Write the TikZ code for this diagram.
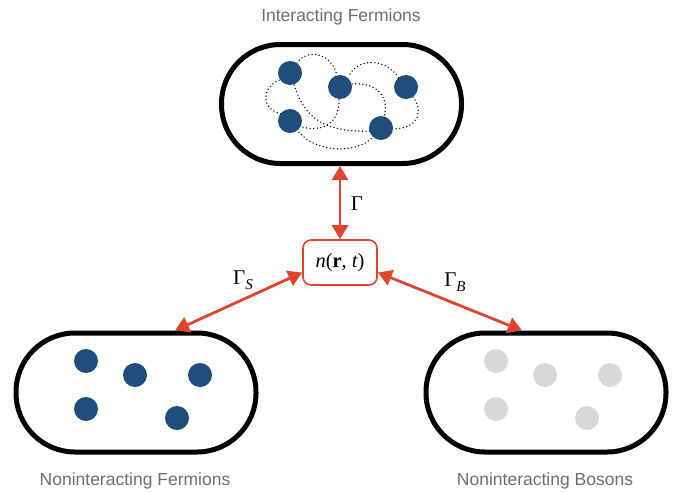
\documentclass[tikz,border=0pt]{standalone}
\usepackage{fontspec}
\setmainfont{Liberation Sans}
\newfontfamily\tnr{Liberation Serif}
\usetikzlibrary{arrows.meta,calc}
\definecolor{fermion}{RGB}{31,78,124}
\definecolor{boson}{RGB}{216,216,216}
\definecolor{arrowred}{RGB}{222,68,46}
\definecolor{labelgray}{RGB}{110,110,110}
\newcommand{\gsub}[1]{\raisebox{-4.5pt}{\fontsize{15}{16}\selectfont\itshape #1}}
\begin{document}
\begin{tikzpicture}[x=1pt,y=-1pt,
  stadium/.style={draw=black, line width=5pt, rounded corners=59pt, minimum width=240pt, minimum height=119pt, inner sep=0pt},
  fdot/.style={circle, fill=fermion, minimum size=24pt, inner sep=0pt},
  bdot/.style={circle, fill=boson, minimum size=24pt, inner sep=0pt},
  link/.style={draw=arrowred, line width=2.8pt, {Triangle[length=14pt,width=16pt]}-{Triangle[length=14pt,width=16pt]}},
  interaction/.style={line width=1.5pt, dash pattern=on 0pt off 3.6pt, line cap=round},
  grouptitle/.style={text=labelgray, font=\fontsize{17.5}{20}\selectfont},
  gammalabel/.style={font=\tnr\fontsize{21}{24}\selectfont},
  density/.style={draw=arrowred, line width=1.6pt, rounded corners=8pt, minimum width=74pt, minimum height=45pt, font=\tnr\fontsize{20.5}{24}\selectfont}
]
\useasboundingbox (0,0) rectangle (684,491);

% containers
\node[stadium] (ifer) at (341.5,104) {};
\node[stadium] (nfer) at (136,392.5) {};
\node[stadium] (nbos) at (546,392.5) {};

% interaction lines
\draw[interaction] (297,63) .. controls (305,50) and (330,50) .. (337,75);
\draw[interaction] (350,74) .. controls (360,58) and (385,58) .. (399,78);
\draw[interaction] (279,80) .. controls (262,88) and (260,108) .. (281,114);
\draw[interaction] (294,85) .. controls (303,110) and (315,133) .. (370,131);
\draw[interaction] (303,127) .. controls (320,132) and (340,125) .. (339,99);
\draw[interaction] (299,132) .. controls (315,152) and (355,155) .. (373,137);
\draw[interaction] (352,84) .. controls (375,82) and (390,95) .. (384,117);
\draw[interaction] (413,97) .. controls (423,110) and (420,128) .. (394,129);

% interacting fermions
\node[fdot] (i1) at (290,73) {};
\node[fdot] (i2) at (340,87) {};
\node[fdot] (i3) at (406,87) {};
\node[fdot] (i4) at (290,121) {};
\node[fdot] (i5) at (381,128) {};

% noninteracting fermions
\node[fdot] (f1) at (86,361) {};
\node[fdot] (f2) at (135,375) {};
\node[fdot] (f3) at (200,375) {};
\node[fdot] (f4) at (86,409) {};
\node[fdot] (f5) at (177,418) {};

% noninteracting bosons
\node[bdot] (b1) at (496,361) {};
\node[bdot] (b2) at (545,375) {};
\node[bdot] (b3) at (610,375) {};
\node[bdot] (b4) at (496,409) {};
\node[bdot] (b5) at (587,418) {};

% density
\node[density] (dens) at (340,262.5) {\itshape n\upshape(\bfseries r\mdseries, \itshape t\upshape)};

% links
\draw[link] (ifer.south -| dens.north) -- (dens.north);
\draw[link] ($(dens.west)+(0,10)$) -- ($(nfer.north)+(39,0)$);
\draw[link] ($(dens.east)+(0,10)$) -- ($(nbos.north)+(-24,0)$);

\node[gammalabel] (g0) at (357,204) {Γ};
\node[gammalabel] (gs) at (243,280) {Γ\gsub{S}};
\node[gammalabel] (gb) at (455,282) {Γ\gsub{B}};

% titles
\node[grouptitle] (tifer) at (341,17) {Interacting Fermions};
\node[grouptitle] (tnfer) at (135,481) {Noninteracting Fermions};
\node[grouptitle] (tnbos) at (545,481) {Noninteracting Bosons};
\end{tikzpicture}
\end{document}
